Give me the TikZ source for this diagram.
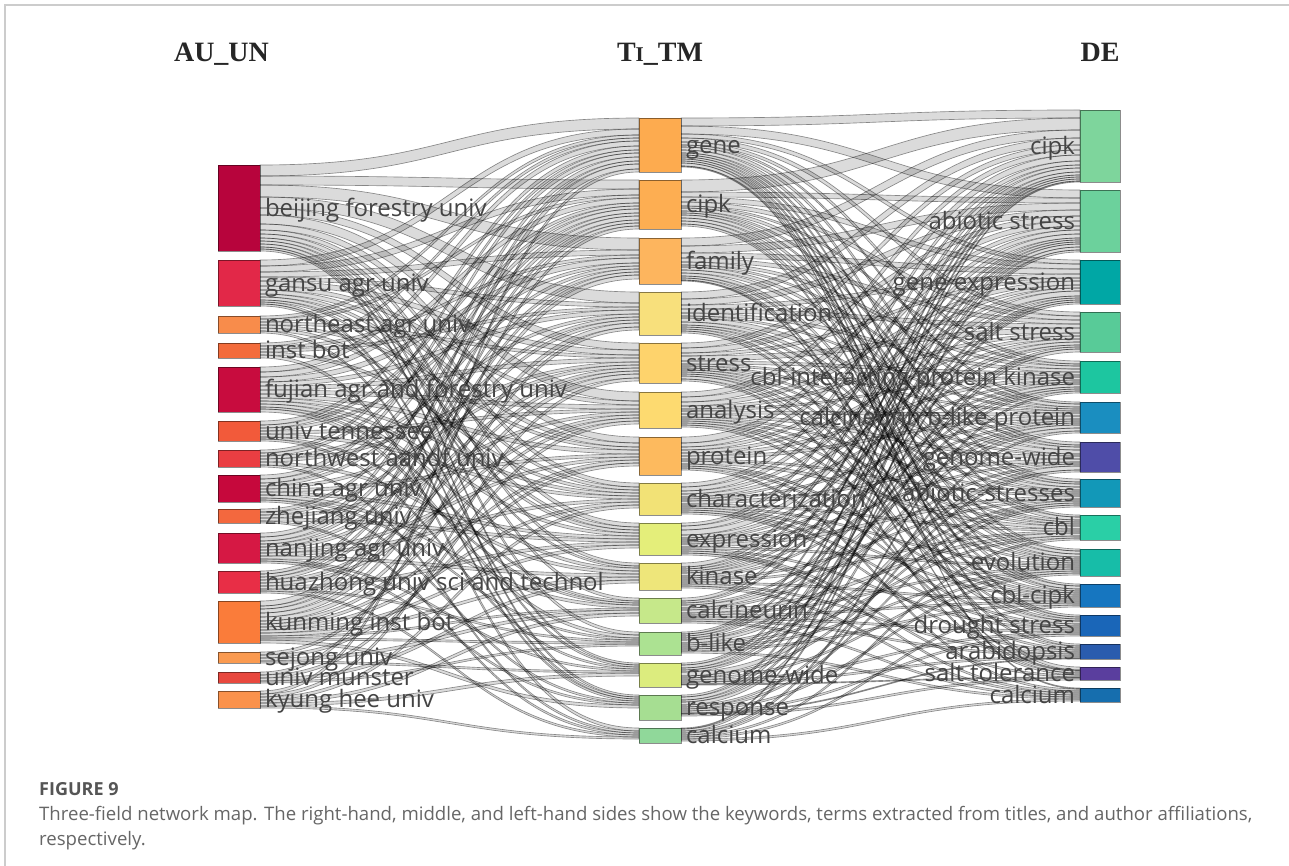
\documentclass[tikz,border=0pt]{standalone}
\usepackage{fontspec}
\usetikzlibrary{calc}
\newfontfamily\labfont{Open Sans}
\newfontfamily\titfont{Liberation Serif}
\definecolor{labgray}{HTML}{444444}
\definecolor{capgray}{HTML}{666666}
\definecolor{figgray}{HTML}{555555}
\definecolor{framegray}{HTML}{CCCCCC}
\pgfdeclarelayer{bg}
\pgfsetlayers{bg,main}
\newcommand\skband[6]{%
  \edef\bya{\csname off#2\endcsname}%
  \edef\byb{\csname off#4\endcsname}%
  \edef\byaa{\the\numexpr\bya+#5\relax}%
  \edef\bybb{\the\numexpr\byb+#5\relax}%
  \path[band] ($(#1.north east)+(0,\bya)$) .. controls +(#6,0) and +(-#6,0) .. ($(#3.north west)+(0,\byb)$) -- ($(#3.north west)+(0,\bybb)$) .. controls +(-#6,0) and +(#6,0) .. ($(#1.north east)+(0,\byaa)$) -- cycle;%
  \expandafter\xdef\csname off#2\endcsname{\byaa}%
  \expandafter\xdef\csname off#4\endcsname{\bybb}%
}
\tikzset{
  nbox/.style={draw=black, draw opacity=0.45, line width=0.9pt, inner sep=0pt, outer sep=0pt, anchor=north west},
  band/.style={fill=black, fill opacity=0.14, draw=black, draw opacity=0.42, line width=0.65pt},
  llab/.style={font=\labfont\fontsize{24}{24}\selectfont, text=labgray, inner sep=0pt, outer sep=0pt},
  ttl/.style={font=\titfont\bfseries\fontsize{28}{28}\selectfont, text=black!85, inner sep=0pt, anchor=base},
}
\begin{document}
\begin{tikzpicture}[x=1pt, y=-1pt]
\useasboundingbox (0,0) rectangle (1289,866);
\begin{pgfonlayer}{bg}
\fill[white] (0,0) rectangle (1289,866);
\end{pgfonlayer}
\draw[framegray, line width=1.2pt] (5,866) -- (5,5) -- (1289,5);

% titles
\node[ttl] (tAU) at (221.5,62) {AU\_UN};
\node[ttl] (tTI) at (660,62) {T{\fontsize{21}{21}\selectfont I}\_TM};
\node[ttl] (tDE) at (1100,62) {DE};

% left nodes
\foreach \i/\yy/\hh/\cc in {1/165/86/B7043C, 2/260/46/E22848, 3/316/17/F88C4B, 4/343/15/F36C3C, 5/367/45/C80C3E, 6/421/20/F25A3A, 7/450/17/EA3E42, 8/475/27/C6083C, 9/509/14/F3683E, 10/533/30/D61844, 11/571/22/E82E46, 12/601/42/FA7C3A, 13/652/11/FA9A50, 14/672/11/E8483E, 15/691/17/FA924C}{
  \definecolor{tmpc}{HTML}{\cc}
  \node[nbox, fill=tmpc, minimum width=42pt, minimum height=\hh pt] (L\i) at (218,\yy) {};
}
% middle nodes
\foreach \i/\yy/\hh/\cc in {1/118/54/FDAB4F, 2/180/49/FDAE52, 3/238/46/FDB55E, 4/292/43/F8E07C, 5/343/40/FED36C, 6/392/36/FDDA70, 7/437/38/FDBA5E, 8/483/32/F2E276, 9/523/32/E4EE7A, 10/563/27/EEE67A, 11/598/25/C6E88A, 12/632/23/ACE292, 13/663/24/DCEC7E, 14/695/25/A6DE92, 15/728/15/90D89A}{
  \definecolor{tmpc}{HTML}{\cc}
  \node[nbox, fill=tmpc, minimum width=42pt, minimum height=\hh pt] (M\i) at (639,\yy) {};
}
% right nodes
\foreach \i/\yy/\hh/\cc in {1/110/72/7ED59C, 2/190/62/6CD19C, 3/260/44/00A7A5, 4/312/40/58CB98, 5/361/32/1DC6A0, 6/402/31/1A8EC0, 7/442/30/4F4DA8, 8/479/28/1298B8, 9/515/25/2ACFA6, 10/549/27/17BDA8, 11/584/23/1676C0, 12/615/21/1A66B8, 13/644/15/2A5CAE, 14/667/13/5A3E9E, 15/688/14/166EAE}{
  \definecolor{tmpc}{HTML}{\cc}
  \node[nbox, fill=tmpc, minimum width=40pt, minimum height=\hh pt] (R\i) at (1080,\yy) {};
}

% offsets
\foreach \i in {1,...,15}{
  \expandafter\xdef\csname offL\i\endcsname{0}
  \expandafter\xdef\csname offMI\i\endcsname{0}
  \expandafter\xdef\csname offMO\i\endcsname{0}
  \expandafter\xdef\csname offR\i\endcsname{0}
}

\begin{pgfonlayer}{bg}
\foreach \sa/\ta/\wa in {1/1/11, 1/2/9, 1/3/12, 1/4/11, 1/5/7, 1/6/9, 1/7/6, 1/8/4, 1/9/4, 1/10/3, 1/11/3, 1/12/3, 1/13/2, 1/14/2,
2/1/6, 2/2/6, 2/3/5, 2/4/4, 2/5/5, 2/6/4, 2/7/4, 2/8/3, 2/9/3, 2/10/2, 2/13/2, 2/14/2,
3/1/3, 3/2/3, 3/5/3, 3/7/3, 3/9/3, 3/14/2,
4/1/3, 4/3/3, 4/4/3, 4/8/3, 4/15/3,
5/1/5, 5/2/5, 5/3/5, 5/4/4, 5/5/4, 5/6/4, 5/7/4, 5/8/3, 5/9/3, 5/10/3, 5/11/2, 5/12/3,
6/1/4, 6/2/3, 6/3/3, 6/6/3, 6/8/3, 6/11/2, 6/13/2,
7/1/3, 7/2/3, 7/4/3, 7/5/3, 7/10/3, 7/15/2,
8/1/4, 8/2/4, 8/3/3, 8/5/3, 8/7/3, 8/9/3, 8/11/3, 8/12/2, 8/14/2,
9/2/3, 9/4/3, 9/6/3, 9/9/3, 9/15/2,
10/1/4, 10/2/4, 10/3/3, 10/4/3, 10/5/3, 10/7/3, 10/8/3, 10/10/3, 10/13/2, 10/14/2,
11/1/3, 11/2/3, 11/3/3, 11/5/3, 11/6/3, 11/9/3, 11/12/2, 11/15/2,
12/1/5, 12/2/3, 12/3/4, 12/4/4, 12/5/4, 12/6/3, 12/7/3, 12/8/3, 12/9/3, 12/10/3, 12/11/2, 12/12/2, 12/14/3,
13/4/3, 13/7/3, 13/11/3, 13/13/2,
14/2/3, 14/6/3, 14/10/3, 14/12/2,
15/1/3, 15/5/3, 15/8/3, 15/11/3, 15/13/3, 15/15/2}{
  \skband{L\sa}{L\sa}{M\ta}{MI\ta}{\wa}{189.5}
}
\foreach \sa/\ta/\wa in {1/1/8, 1/2/8, 1/3/4, 1/4/4, 1/5/3, 1/6/2, 1/7/3, 1/8/3, 1/9/2, 1/10/2, 1/11/2, 1/12/2, 1/13/2, 1/14/3, 1/15/1,
2/1/12, 2/2/5, 2/3/5, 2/4/4, 2/5/2, 2/6/3, 2/7/2, 2/8/2, 2/9/3, 2/10/3, 2/11/3, 2/12/2,
3/1/8, 3/2/7, 3/3/5, 3/4/4, 3/5/3, 3/6/2, 3/7/3, 3/8/3, 3/10/3, 3/11/2, 3/13/2, 3/14/1,
4/1/7, 4/2/6, 4/3/4, 4/4/4, 4/5/3, 4/6/2, 4/7/4, 4/8/3, 4/9/2, 4/10/2, 4/12/2, 4/14/2,
5/1/5, 5/2/5, 5/3/3, 5/4/5, 5/5/3, 5/6/2, 5/7/2, 5/8/2, 5/9/2, 5/10/2, 5/11/2, 5/12/3, 5/14/2,
6/1/5, 6/2/5, 6/3/4, 6/4/3, 6/5/2, 6/6/3, 6/7/3, 6/8/2, 6/9/2, 6/10/2, 6/11/2, 6/13/2,
7/1/6, 7/2/4, 7/3/3, 7/4/3, 7/5/3, 7/6/3, 7/8/2, 7/9/3, 7/11/2, 7/12/2, 7/15/2,
8/1/4, 8/2/4, 8/3/3, 8/4/3, 8/5/2, 8/6/2, 8/7/3, 8/9/2, 8/10/2, 8/11/2, 8/12/2, 8/13/2,
9/1/3, 9/2/4, 9/3/5, 9/4/3, 9/5/2, 9/6/2, 9/7/2, 9/8/3, 9/10/2, 9/12/2, 9/14/2, 9/15/2,
10/1/4, 10/2/2, 10/3/2, 10/4/2, 10/5/3, 10/6/2, 10/8/2, 10/9/2, 10/11/2, 10/13/2, 10/15/2,
11/1/3, 11/2/2, 11/5/2, 11/6/3, 11/7/2, 11/9/3, 11/10/2, 11/11/2, 11/12/2, 11/13/2, 11/15/2,
12/1/2, 12/2/2, 12/3/2, 12/5/2, 12/6/3, 12/8/2, 12/9/2, 12/10/2, 12/11/2, 12/15/2,
13/1/2, 13/2/3, 13/3/2, 13/4/2, 13/7/4, 13/8/2, 13/10/2, 13/12/2, 13/13/2, 13/14/1,
14/1/2, 14/2/3, 14/3/2, 14/4/3, 14/7/2, 14/8/2, 14/10/2, 14/12/2, 14/13/1, 14/14/2,
15/1/1, 15/2/2, 15/5/2, 15/6/2, 15/9/2, 15/11/2, 15/15/2}{
  \skband{M\sa}{MO\sa}{R\ta}{R\ta}{\wa}{199.5}
}
\end{pgfonlayer}

% labels
\foreach \i/\txt in {1/beijing forestry univ, 2/gansu agr univ, 3/northeast agr univ, 4/inst bot, 5/fujian agr and forestry univ, 6/univ tennessee, 7/northwest aandf univ, 8/china agr univ, 9/zhejiang univ, 10/nanjing agr univ, 11/huazhong univ sci and technol, 12/kunming inst bot, 13/sejong univ, 14/univ munster, 15/kyung hee univ}{
  \node[llab, anchor=base west] (Lt\i) at ($(L\i.east)+(5,8.4)$) {\txt};
}
\foreach \i/\txt in {1/gene, 2/cipk, 3/family, 4/identification, 5/stress, 6/analysis, 7/protein, 8/characterization, 9/expression, 10/kinase, 11/calcineurin, 12/b-like, 13/genome-wide, 14/response, 15/calcium}{
  \node[llab, anchor=base west] (Mt\i) at ($(M\i.east)+(5,8.4)$) {\txt};
}
\foreach \i/\txt in {1/cipk, 2/abiotic stress, 3/gene expression, 4/salt stress, 5/cbl-interacting protein kinase, 6/calcineurin b-like protein, 7/genome-wide, 8/abiotic-stresses, 9/cbl, 10/evolution, 11/cbl-cipk, 12/drought stress, 13/arabidopsis, 14/salt tolerance, 15/calcium}{
  \node[llab, anchor=base east] (Rt\i) at ($(R\i.west)+(-5,8.4)$) {\txt};
}

% caption
\node[anchor=base west, inner sep=0pt, text=figgray, font=\labfont\bfseries\fontsize{18}{18}\selectfont] (fig) at (39,795) {FIGURE 9};
\node[anchor=base west, inner sep=0pt, text=capgray, align=left, font=\labfont\fontsize{18.6}{25}\selectfont] (cap) at (39,845) {Three-field network map. The right-hand, middle, and left-hand sides show the keywords, terms extracted from titles, and author affiliations,\\respectively.};
\end{tikzpicture}
\end{document}
